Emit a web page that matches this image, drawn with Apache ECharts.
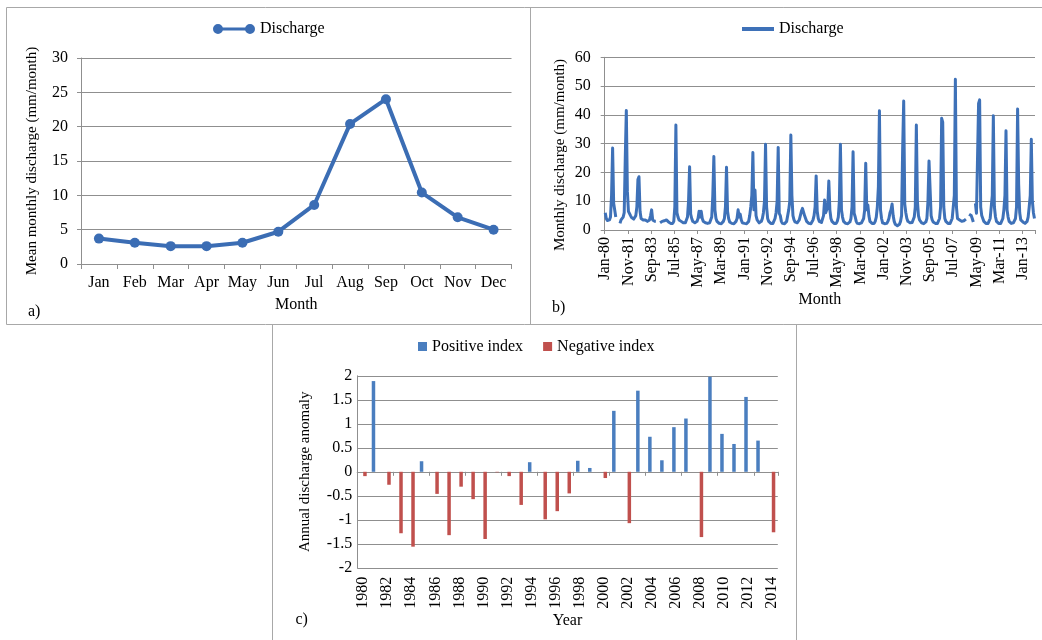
<!DOCTYPE html>
<html>
<head>
<meta charset="utf-8">
<script src="https://cdn.jsdelivr.net/npm/echarts@6/dist/echarts.min.js"></script>
<style>
html,body{margin:0;padding:0;background:#ffffff;}
#chart{width:1042px;height:640px;}
</style>
</head>
<body>
<div id="chart"></div>
<script>
// ---------- Panel a: mean monthly discharge ----------
const monthCategories = ['Jan','Feb','Mar','Apr','May','Jun','Jul','Aug','Sep','Oct','Nov','Dec'];
const meanMonthlyDischarge = [3.7, 3.1, 2.6, 2.6, 3.1, 4.7, 8.6, 20.4, 24.0, 10.4, 6.8, 5.0];

// ---------- Panel b: monthly discharge Jan-1980 .. Dec-2013 ----------
const monthlyDischarge = [
  6, 4, 3.3, 3.2, 3.5, 4.5, 12, 28.5, 9.3, 9, 4.5, null,          // 1980
  null, null, 2.3, 3.5, 4, 4.5, 6, 25, 41.5, 13.5, 6.5, 6,        // 1981
  5, 4.3, 4, 3.8, 4, 5, 8, 17.5, 18.5, 6.5, 4, 3.5,               // 1982
  3.5, 3, 3.5, 4, 3, 3, 3.5, 5, 7, 3.5, 3, 3,                     // 1983
  3, null, null, null, 2.5, 2.8, 3, 3, 3.2, 3, 3.5, 3,            // 1984
  2.8, 2.5, 2.3, 2.2, 2.3, 3, 8, 36.5, 6, 4.5, 3.5, 3,            // 1985
  3, 2.8, 2.5, 2.5, 2.5, 3, 4.5, 10, 22, 5.5, 4, 3,               // 1986
  2.6, 2.5, 2.5, 3, 4, 6.5, 4.5, 6.5, 4, 3, 2.7, 2.5,             // 1987
  2.3, 2.3, 2.5, 2.5, 3, 4.5, 12, 25.5, 7, 4, 3, 2.5,             // 1988
  2.3, 2.2, 2.2, 2.5, 3, 4, 8, 21.8, 6.4, 4, 2.8, 2.3,            // 1989
  2.3, 2.2, 2.2, 2.4, 3, 4, 7, 4.5, 5.5, 3.5, 2.5, 2.3,           // 1990
  2.3, 2.2, 2.2, 2.3, 3, 5, 8, 12, 26.9, 7, 13.9, 5,              // 1991
  3.5, 3, 2.5, 2.5, 3, 4, 6, 10, 29.8, 8, 4, 3,                   // 1992
  2.5, 2.3, 2.2, 2.3, 2.8, 4, 6, 10, 28.7, 5.8, 5, 3,             // 1993
  2.3, 2.2, 2.2, 2.5, 3, 5, 7, 10, 33, 12, 5, 3.5,                // 1994
  2.8, 2.5, 2.5, 2.8, 3.5, 5, 6.5, 7.5, 8.1, 5, 4, 3,             // 1995
  2.5, 2.3, 2.2, 2.2, 2.5, 3.5, 5, 8, 18.8, 6.5, 4, 3,            // 1996
  2.8, 2.6, 3, 5, 10.4, 6, 6.5, 8, 17, 7, 4, 3,                   // 1997
  2.5, 2.3, 2.2, 2.3, 3, 4.5, 10, 29.8, 7, 4.5, 3, 2.5,           // 1998
  2.3, 2.2, 2.2, 2.3, 2.8, 4, 8, 27.2, 5.8, 4.6, 3, 2.3,          // 1999
  2.3, 2.2, 2.2, 2.5, 3, 4, 7, 23.2, 7, 8.7, 5, 3,                // 2000
  2.5, 2.3, 2.2, 2.3, 3, 4.5, 8, 15, 41.4, 7, 4, 2.5,             // 2001
  2.3, 2.2, 2.2, 2.3, 3, 4, 6, 7, 9, 5, 3, 2,                     // 2002
  1.7, 1.5, 1.6, 2, 3, 5, 28, 44.8, 9, 6, 4, 3,                   // 2003
  2.8, 2.5, 2.5, 2.6, 3, 4.5, 8, 36.5, 10, 5, 3.5, 3,             // 2004
  2.5, 2.3, 2.2, 2.3, 2.8, 4, 10, 24, 23.5, 5, 3.5, 2.8,          // 2005
  2.5, 2.3, 2.2, 2.3, 2.8, 4, 8, 38.8, 37.5, 8, 4, 3,             // 2006
  2.5, 2.3, 2.2, 2.3, 2.8, 4, 8, 12, 52.4, 8, 4, 3.5,             // 2007
  3.5, 3, 3, 3, 3.2, 3.5, 3.8, null, null, 5.5, 5.6, 5,           // 2008
  4, 2.8, null, 9.3, 5.8, 6, 44, 45.2, 8, 5, 4, 3,                // 2009
  2.5, 2.3, 2.2, 2.3, 2.8, 4, 8, 12, 39.7, 8, 4.6, 3,             // 2010
  2.5, 2.3, 2.2, 2.3, 2.8, 4, 7, 12, 34.5, 7, 4.5, 3,             // 2011
  2.5, 2.3, 2.2, 2.5, 3, 4, 8, 42, 16, 6, 3.5, 3,                 // 2012
  2.8, 2.5, 2.3, 2.5, 3, 4.5, 8, 12, 31.5, 10, 6, 4               // 2013
];
const firstYear = 1980;
const monthlyCategories = [];
for (let i = 0; i < monthlyDischarge.length; i++) {
  const yr = firstYear + Math.floor(i / 12);
  monthlyCategories.push(monthCategories[i % 12] + '-' + String(yr).slice(2));
}

// ---------- Panel c: annual discharge anomaly ----------
const years = [];
for (let y = 1980; y <= 2014; y++) years.push(String(y));
const positiveIndex = [
  null, 1.89, null, null, null, 0.22, null, null, null, null,
  null, null, null, null, 0.2, null, null, null, 0.23, 0.08,
  null, 1.27, null, 1.69, 0.73, 0.24, 0.93, 1.11, null, 1.98,
  0.79, 0.58, 1.56, 0.65, null
];
const negativeIndex = [
  -0.09, null, -0.27, -1.28, -1.56, null, -0.46, -1.32, -0.31, -0.57,
  -1.4, -0.01, -0.09, -0.69, null, -0.99, -0.82, -0.45, null, null,
  -0.13, null, -1.07, null, null, null, null, null, -1.36, null,
  null, null, null, null, -1.26
];

const FONT = 'Liberation Serif';
const GRID_C = '#8f8f8f';
const BLUE_A = '#3b6db4';
const BLUE_B = '#3e71b8';
const BAR_BLUE = '#4a7ebf';
const BAR_RED = '#c0504d';
const FRAME = '#a8a8a8';

const txt = {fontFamily: FONT, fontSize: 16, color: '#000'};

const chart = echarts.init(document.getElementById('chart'), null, {renderer: 'canvas'});

const option = {
  animation: false,
  backgroundColor: '#ffffff',
  textStyle: {fontFamily: FONT, fontSize: 16, color: '#000'},
  grid: [
    {left: 81, top: 58, width: 430.5, height: 206},
    {left: 604.7, top: 57.3, width: 430.3, height: 172.7},
    {left: 357.2, top: 375.8, width: 420.6, height: 192}
  ],
  legend: [
    {
      data: ['Discharge'], left: 213, top: 21, padding: 0,
      icon: 'path://M0,5A5,5,0,1,1,10,5A5,5,0,1,1,0,5ZM5,3.5L37,3.5L37,6.5L5,6.5ZM32,5A5,5,0,1,1,42,5A5,5,0,1,1,32,5Z',
      itemWidth: 42, itemHeight: 10, selectedMode: false,
      textStyle: {fontFamily: FONT, fontSize: 16, color: '#000'}
    },
    {
      data: ['Monthly discharge'], left: 742, top: 21, padding: 0,
      icon: 'rect', itemWidth: 32, itemHeight: 4, selectedMode: false,
      formatter: function () { return 'Discharge'; },
      textStyle: {fontFamily: FONT, fontSize: 16, color: '#000'}
    },
    {
      data: ['Positive index', 'Negative index'], left: 418, top: 338.5, padding: 0,
      icon: 'rect', itemWidth: 9, itemHeight: 9, itemGap: 20, selectedMode: false,
      textStyle: {fontFamily: FONT, fontSize: 16, color: '#000'}
    }
  ],
  xAxis: [
    {
      gridIndex: 0, type: 'category', data: monthCategories, boundaryGap: true,
      name: 'Month', nameLocation: 'middle', nameGap: 33,
      nameTextStyle: txt,
      axisLine: {lineStyle: {color: GRID_C, width: 1}},
      axisTick: {show: true, length: 5, alignWithLabel: false, lineStyle: {color: GRID_C}},
      axisLabel: {interval: 0, margin: 11, fontFamily: FONT, fontSize: 16, color: '#000'},
      splitLine: {show: false}
    },
    {
      gridIndex: 1, type: 'category', data: monthlyCategories, boundaryGap: true,
      name: 'Month', nameLocation: 'middle', nameGap: 62,
      nameTextStyle: txt,
      axisLine: {lineStyle: {color: GRID_C, width: 1}},
      axisTick: {show: true, length: 4, interval: 21, alignWithLabel: false, lineStyle: {color: GRID_C}},
      axisLabel: {interval: 21, rotate: 90, margin: 7, fontFamily: FONT, fontSize: 16, color: '#000'},
      splitLine: {show: false}
    },
    {
      gridIndex: 2, type: 'category', data: years, boundaryGap: true, position: 'bottom',
      axisLine: {onZero: true, lineStyle: {color: GRID_C, width: 1}},
      axisTick: {show: true, length: 4, alignWithLabel: false, lineStyle: {color: GRID_C}},
      axisLabel: {show: false},
      splitLine: {show: false}
    },
    {
      gridIndex: 2, type: 'category', data: years, boundaryGap: true, position: 'bottom',
      name: 'Year', nameLocation: 'middle', nameGap: 44,
      nameTextStyle: txt,
      axisLine: {show: false, onZero: false},
      axisTick: {show: false},
      axisLabel: {interval: 1, rotate: 90, margin: 9, fontFamily: FONT, fontSize: 16, color: '#000'},
      splitLine: {show: false}
    }
  ],
  yAxis: [
    {
      gridIndex: 0, type: 'value', min: 0, max: 30, interval: 5,
      name: 'Mean monthly discharge (mm/month)', nameLocation: 'middle', nameGap: 41,
      nameTextStyle: {fontFamily: FONT, fontSize: 15, color: '#000'},
      axisLine: {show: true, lineStyle: {color: GRID_C, width: 1}},
      axisTick: {show: true, length: 4, lineStyle: {color: GRID_C}},
      axisLabel: {margin: 13, fontFamily: FONT, fontSize: 16, color: '#000'},
      splitLine: {show: true, lineStyle: {color: GRID_C, width: 1}}
    },
    {
      gridIndex: 1, type: 'value', min: 0, max: 60, interval: 10,
      axisLine: {show: true, lineStyle: {color: GRID_C, width: 1}},
      axisTick: {show: true, length: 4, lineStyle: {color: GRID_C}},
      axisLabel: {margin: 14, fontFamily: FONT, fontSize: 16, color: '#000'},
      splitLine: {show: true, lineStyle: {color: GRID_C, width: 1}}
    },
    {
      gridIndex: 2, type: 'value', min: -2, max: 2, interval: 0.5,
      name: 'Annual discharge anomaly', nameLocation: 'middle', nameGap: 45,
      nameTextStyle: {fontFamily: FONT, fontSize: 15, color: '#000'},
      axisLine: {show: true, lineStyle: {color: GRID_C, width: 1}},
      axisTick: {show: false},
      axisLabel: {margin: 5, fontFamily: FONT, fontSize: 16, color: '#000'},
      splitLine: {show: true, lineStyle: {color: GRID_C, width: 1}}
    }
  ],
  series: [
    {
      name: 'Discharge', type: 'line', xAxisIndex: 0, yAxisIndex: 0,
      data: meanMonthlyDischarge,
      symbol: 'circle', symbolSize: 10, showSymbol: true,
      lineStyle: {color: BLUE_A, width: 4},
      itemStyle: {color: BLUE_A, borderColor: BLUE_A, borderWidth: 0},
      emphasis: {disabled: true}
    },
    {
      name: 'Monthly discharge', type: 'line', xAxisIndex: 1, yAxisIndex: 1,
      data: monthlyDischarge, connectNulls: false,
      symbol: 'none', showSymbol: false,
      lineStyle: {color: BLUE_B, width: 3, join: 'round'},
      itemStyle: {color: BLUE_B},
      emphasis: {disabled: true}
    },
    {
      name: 'Positive index', type: 'bar', xAxisIndex: 2, yAxisIndex: 2,
      data: positiveIndex, barWidth: 3.5, barGap: '0%',
      itemStyle: {color: BAR_BLUE},
      emphasis: {disabled: true}
    },
    {
      name: 'Negative index', type: 'bar', xAxisIndex: 2, yAxisIndex: 2,
      data: negativeIndex, barWidth: 3.5, barGap: '0%',
      itemStyle: {color: BAR_RED},
      emphasis: {disabled: true}
    }
  ],
  graphic: [
    // panel frames
    {type: 'line', silent: true, shape: {x1: 6.5, y1: 7.5, x2: 1042, y2: 7.5}, style: {stroke: FRAME, lineWidth: 1}},
    {type: 'line', silent: true, shape: {x1: 6.5, y1: 7.5, x2: 6.5, y2: 324.5}, style: {stroke: FRAME, lineWidth: 1}},
    {type: 'line', silent: true, shape: {x1: 530.5, y1: 7.5, x2: 530.5, y2: 324.5}, style: {stroke: FRAME, lineWidth: 1}},
    {type: 'line', silent: true, shape: {x1: 6.5, y1: 324.5, x2: 1042, y2: 324.5}, style: {stroke: FRAME, lineWidth: 1}},
    {type: 'line', silent: true, shape: {x1: 272.5, y1: 324.5, x2: 272.5, y2: 640}, style: {stroke: FRAME, lineWidth: 1}},
    {type: 'line', silent: true, shape: {x1: 796.5, y1: 324.5, x2: 796.5, y2: 640}, style: {stroke: FRAME, lineWidth: 1}},
    // panel letters
    {type: 'text', silent: true, left: 28, top: 304, style: {text: 'a)', font: '16px "Liberation Serif"', fill: '#000'}},
    {type: 'text', silent: true, left: 552, top: 299.5, style: {text: 'b)', font: '16px "Liberation Serif"', fill: '#000'}},
    {type: 'text', silent: true, left: 295.5, top: 612, style: {text: 'c)', font: '16px "Liberation Serif"', fill: '#000'}},
    // y-axis title of panel b
    {type: 'text', silent: true, x: 560, y: 155, rotation: Math.PI / 2,
     style: {text: 'Monthly discharge (mm/month)', font: '15px "Liberation Serif"', fill: '#000', align: 'center', verticalAlign: 'middle'}}
  ]
};

chart.setOption(option);
</script>
</body>
</html>
